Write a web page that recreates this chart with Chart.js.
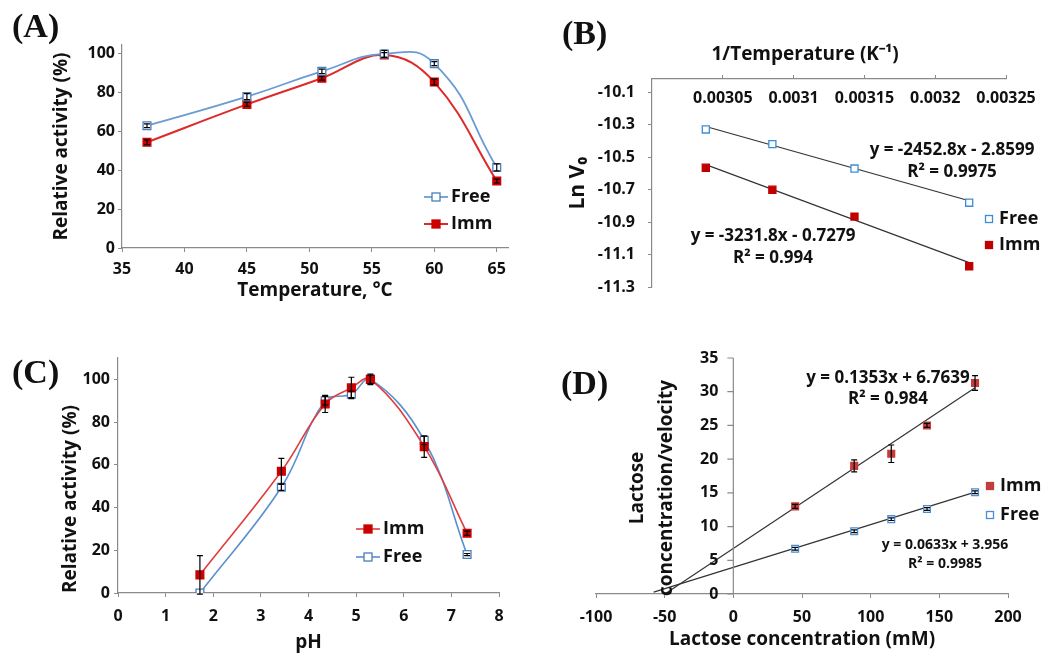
<!DOCTYPE html>
<html>
<head>
<meta charset="utf-8">
<script src="https://cdn.jsdelivr.net/npm/chart.js@4.4.0/dist/chart.umd.min.js"></script>
<style>
  body { margin: 0; background: #fff; }
  #fig { position: relative; width: 1054px; height: 654px; overflow: hidden; }
  #fig canvas { position: absolute; }
  .tag { position: absolute; font: bold 34px "Liberation Serif", serif; line-height: 34px; color: #111; }
</style>
</head>
<body>
<div id="fig">
  <canvas id="cA" width="520" height="310" style="left:0;top:0;width:520px;height:310px"></canvas>
  <canvas id="cB" width="534" height="310" style="left:520px;top:0;width:534px;height:310px"></canvas>
  <canvas id="cC" width="520" height="344" style="left:0;top:310px;width:520px;height:344px"></canvas>
  <canvas id="cD" width="534" height="344" style="left:520px;top:310px;width:534px;height:344px"></canvas>
  <div class="tag" style="left:12px;top:9px">(A)</div>
  <div class="tag" style="left:562px;top:16px">(B)</div>
  <div class="tag" style="left:12px;top:355px">(C)</div>
  <div class="tag" style="left:561px;top:366px">(D)</div>
</div>
<script>
// (A) temperature profile
const tempC = [37, 45, 51, 56, 60, 65];
const tempFree = [63, 78, 91, 100, 95, 41.5];
const tempFreeErr = [1, 1.5, 1.2, 1.8, 1, 1.8];
const tempImm = [54.5, 74, 87.5, 99.5, 85.5, 34.5];
const tempImmErr = [1.2, 1, 1, 1.2, 1.5, 1];
const tempTicks = [35, 40, 45, 50, 55, 60, 65];
const pctTicks = [0, 20, 40, 60, 80, 100];

// (B) Arrhenius plot
const invT = [0.003038, 0.003085, 0.003143, 0.003224];
const lnFree = [-10.33, -10.42, -10.57, -10.78];
const lnImm = [-10.565, -10.70, -10.865, -11.17];
const fitInvT = [0.003038, 0.003224];
const lnFreeFit = [-10.312, -10.768];
const lnImmFit = [-10.546, -11.148];
const invTTicks = [0.00305, 0.0031, 0.00315, 0.0032, 0.00325];
const lnTicks = [-11.3, -11.1, -10.9, -10.7, -10.5, -10.3, -10.1];

// (C) pH profile
const pH = [1.72, 3.43, 4.35, 4.9, 5.3, 6.43, 7.33];
const phImm = [8.5, 57, 88.5, 96, 100, 68.5, 28];
const phImmErr = [9, 6, 4, 5, 2.5, 5, 1];
const phFree = [0, 49.5, 90, 93, 100, 71.5, 18];
const phFreeErr = [0, 1.5, 2, 1.5, 2, 2, 0.5];
const phTicks = [0, 1, 2, 3, 4, 5, 6, 7, 8];

// (D) Hanes-Woolf plot
const lactose = [45, 88, 115, 141, 176];
const hwImm = [13, 19, 20.8, 25, 31.3];
const hwImmErr = [0.3, 0.9, 1.3, 0.3, 1.1];
const hwFree = [6.7, 9.3, 11.1, 12.6, 15.1];
const hwFreeErr = [0.2, 0.2, 0.2, 0.2, 0.2];
const fitLactose = [-58, 176];
const hwImmFit = [-1.1, 30.6];
const hwFreeFit = [0.28, 15.1];
const lactoseTicks = [-100, -50, 0, 50, 100, 150, 200];
const hwTicks = [0, 5, 10, 15, 20, 25, 30, 35];

const grey = '#8a8a8a';
const ink = '#111';
const blueLine = '#6a9bd4', blueMark = '#4a7ebb';
const redLine = '#dd2a2a', redMark = '#cc0000';
const FONT = '"Open Sans", sans-serif';

Chart.defaults.font.family = FONT;
Chart.defaults.font.weight = 'bold';
Chart.defaults.color = ink;
Chart.defaults.plugins.legend.display = false;
Chart.defaults.plugins.tooltip.enabled = false;
Chart.defaults.animation = false;
Chart.defaults.events = [];

const pts = (xs, ys) => xs.map((x, i) => ({x: x, y: ys[i]}));
const fixed = vals => scale => { scale.ticks = vals.map(v => ({value: v})); };

// black error bars on top of the markers
const errorBars = {
  id: 'errorBars',
  afterDatasetsDraw(chart) {
    const {ctx, scales: {x, y}} = chart;
    ctx.save();
    ctx.strokeStyle = '#000';
    ctx.lineWidth = 1.2;
    chart.data.datasets.forEach(ds => {
      if (!ds.errors) return;
      ds.data.forEach((p, i) => {
        const e = ds.errors[i];
        if (!e) return;
        const px = x.getPixelForValue(p.x);
        const t = y.getPixelForValue(p.y + e), b = y.getPixelForValue(p.y - e);
        ctx.beginPath();
        ctx.moveTo(px, t); ctx.lineTo(px, b);
        ctx.moveTo(px - 3, t); ctx.lineTo(px + 3, t);
        ctx.moveTo(px - 3, b); ctx.lineTo(px + 3, b);
        ctx.stroke();
      });
    });
    ctx.restore();
  }
};

// legend inside the plot, drawn from the datasets' own styles
const keyBox = {
  id: 'keyBox',
  afterDraw(chart, args, o) {
    if (!o.rows) return;
    const ctx = chart.ctx;
    o.rows.forEach((di, i) => {
      const ds = chart.data.datasets[di];
      const y = o.y + i * o.dy;
      ctx.save();
      if (o.line) {
        ctx.strokeStyle = ds.borderColor;
        ctx.lineWidth = ds.borderWidth;
        ctx.beginPath();
        ctx.moveTo(o.x - o.line, y); ctx.lineTo(o.x + o.line, y);
        ctx.stroke();
      }
      const s = o.size;
      ctx.fillStyle = ds.pointBackgroundColor;
      ctx.strokeStyle = ds.pointBorderColor;
      ctx.lineWidth = 1.3;
      ctx.fillRect(o.x - s / 2, y - s / 2, s, s);
      ctx.strokeRect(o.x - s / 2, y - s / 2, s, s);
      ctx.fillStyle = ink;
      ctx.font = 'bold ' + o.fontSize + 'px ' + FONT;
      ctx.textAlign = 'left';
      ctx.textBaseline = 'middle';
      ctx.fillText(ds.label, o.textX, y);
      ctx.restore();
    });
  }
};

// free text: equations, titles that chart.js cannot place
const notes = {
  id: 'notes',
  afterDraw(chart, args, o) {
    if (!o.items) return;
    const ctx = chart.ctx;
    o.items.forEach(t => {
      ctx.save();
      ctx.font = 'bold ' + t.size + 'px ' + FONT;
      ctx.fillStyle = ink;
      ctx.textAlign = 'center';
      ctx.textBaseline = 'middle';
      ctx.translate(t.x, t.y);
      if (t.rot) ctx.rotate(t.rot);
      ctx.fillText(t.text, 0, 0);
      ctx.restore();
    });
  }
};

// y axis crossing x = 0 (panel D): line, tick marks and labels at the left of it
const crossAxis = {
  id: 'crossAxis',
  afterDatasetsDraw(chart) {
    const {ctx, scales: {x, y}} = chart;
    const x0 = x.getPixelForValue(0);
    ctx.save();
    ctx.strokeStyle = grey;
    ctx.lineWidth = 1.2;
    ctx.beginPath();
    ctx.moveTo(x0, y.top); ctx.lineTo(x0, y.bottom);
    y.ticks.forEach(t => {
      const py = y.getPixelForValue(t.value);
      ctx.moveTo(x0 - 6, py); ctx.lineTo(x0, py);
    });
    ctx.stroke();
    ctx.fillStyle = ink;
    ctx.font = 'bold 16px ' + FONT;
    ctx.textAlign = 'right';
    ctx.textBaseline = 'middle';
    y.ticks.forEach(t => ctx.fillText(String(t.value), x0 - 15, y.getPixelForValue(t.value)));
    ctx.restore();
  }
};

const tickFont = {size: 16, weight: 'bold'};
const titleFont = {size: 19, weight: 'bold'};
const noGrid = {drawOnChartArea: false, drawTicks: true, tickLength: 4, color: grey};
const border = {color: grey, width: 1.2};

function curve(label, xs, ys, errs, line, mark, filled) {
  return {
    label: label, data: pts(xs, ys), errors: errs,
    borderColor: line, borderWidth: 2, tension: 0.4,
    pointStyle: 'rect', pointRadius: 5.5,
    pointBackgroundColor: filled ? mark : '#fff', pointBorderColor: mark, pointBorderWidth: 1.3
  };
}
function dots(label, xs, ys, errs, mark, filled, r) {
  return {
    label: label, data: pts(xs, ys), errors: errs, showLine: false,
    pointStyle: 'rect', pointRadius: r,
    pointBackgroundColor: filled ? mark : '#fff', pointBorderColor: mark, pointBorderWidth: 1.3
  };
}
function fit(xs, ys) {
  return {data: pts(xs, ys), borderColor: '#333', borderWidth: 1.2, pointRadius: 0, tension: 0};
}

// ---- (A)
const aFree = curve('Free', tempC, tempFree, tempFreeErr, blueLine, blueMark, false);
const aImm = curve('Imm', tempC, tempImm, tempImmErr, redLine, redMark, true);
aFree.tension = 0.5; aFree.borderWidth = 1.8;
new Chart(document.getElementById('cA'), {
  type: 'line',
  data: {datasets: [aFree, aImm]},
  plugins: [errorBars, keyBox],
  options: {
    responsive: false,
    layout: {padding: {left: 0, top: 45, right: 12, bottom: 0}},
    scales: {
      x: {type: 'linear', min: 35, max: 65.9, afterBuildTicks: fixed(tempTicks),
          afterFit: s => { s.height = 62; },
          grid: noGrid, border: border,
          ticks: {font: tickFont, padding: 8, callback: v => String(v)},
          title: {display: true, text: 'Temperature, °C', font: titleFont, padding: {top: 0, bottom: 8}}},
      y: {min: 0, max: 104.6, afterBuildTicks: fixed(pctTicks),
          afterFit: s => { s.width = 122; },
          grid: noGrid, border: border,
          ticks: {font: tickFont, padding: 3, callback: v => String(v)},
          title: {display: true, text: 'Relative activity (%)', font: titleFont, padding: {top: 50, bottom: 0}}}
    },
    plugins: {keyBox: {rows: [0, 1], x: 436, y: 197, dy: 27, line: 12, size: 8, textX: 451, fontSize: 18}}
  }
});

// ---- (B)
new Chart(document.getElementById('cB'), {
  type: 'line',
  data: {datasets: [
    dots('Free', invT, lnFree, null, '#3b8ed6', false, 5),
    dots('Imm', invT, lnImm, null, '#c00000', true, 5),
    fit(fitInvT, lnFreeFit),
    fit(fitInvT, lnImmFit)
  ]},
  plugins: [keyBox, notes],
  options: {
    responsive: false,
    layout: {padding: {left: 0, top: 0, right: 48, bottom: 15}},
    scales: {
      x: {type: 'linear', position: 'top', min: 0.003, max: 0.00325, afterBuildTicks: fixed(invTTicks),
          afterFit: s => { s.height = 79; },
          grid: noGrid, border: border,
          ticks: {font: tickFont, mirror: true, padding: 10, callback: v => String(v)}},
      y: {min: -11.3, max: -10.02, afterBuildTicks: fixed(lnTicks),
          afterFit: s => { s.width = 132; },
          grid: noGrid, border: border,
          ticks: {font: tickFont, padding: 13, callback: v => String(v)},
          title: {display: true, text: 'Ln V₀', font: {size: 21, weight: 'bold'}, padding: {top: 45, bottom: 0}}}
    },
    plugins: {
      keyBox: {rows: [0, 1], x: 469, y: 219, dy: 26, size: 7, textX: 479, fontSize: 18},
      notes: {items: [
        {text: '1/Temperature (K⁻¹)', x: 285, y: 55, size: 19},
        {text: 'y = -2452.8x - 2.8599', x: 432, y: 150, size: 17},
        {text: 'R² = 0.9975', x: 432, y: 172, size: 17},
        {text: 'y = -3231.8x - 0.7279', x: 253, y: 236, size: 17},
        {text: 'R² = 0.994', x: 253, y: 258, size: 17}
      ]}
    }
  }
});

// ---- (C)
const cImm = curve('Imm', pH, phImm, phImmErr, '#e03c3c', redMark, true);
const cFree = curve('Free', pH, phFree, phFreeErr, '#5b8fd0', blueMark, false);
cImm.borderWidth = 1.6; cFree.borderWidth = 1.6;
new Chart(document.getElementById('cC'), {
  type: 'line',
  data: {datasets: [cImm, cFree]},
  plugins: [errorBars, keyBox],
  options: {
    responsive: false,
    layout: {padding: {left: 0, top: 48, right: 21, bottom: 0}},
    scales: {
      x: {type: 'linear', min: 0, max: 8, afterBuildTicks: fixed(phTicks),
          afterFit: s => { s.height = 61; },
          grid: noGrid, border: border,
          ticks: {font: tickFont, padding: 10, callback: v => String(v)},
          title: {display: true, text: 'pH', font: titleFont, padding: {top: 0, bottom: 0}}},
      y: {min: 0, max: 110, afterBuildTicks: fixed(pctTicks),
          afterFit: s => { s.width = 118; },
          grid: noGrid, border: border,
          ticks: {font: tickFont, padding: 4, callback: v => String(v)},
          title: {display: true, text: 'Relative activity (%)', font: titleFont, align: 'start', padding: {top: 59, bottom: 0}}}
    },
    plugins: {keyBox: {rows: [0, 1], x: 368, y: 219, dy: 28, line: 12, size: 8, textX: 383, fontSize: 18}}
  }
});

// ---- (D)
new Chart(document.getElementById('cD'), {
  type: 'line',
  data: {datasets: [
    dots('Imm', lactose, hwImm, hwImmErr, '#c43c3c', true, 4.8),
    dots('Free', lactose, hwFree, hwFreeErr, '#4a8fd4', false, 4.8),
    fit(fitLactose, hwImmFit),
    fit(fitLactose, hwFreeFit)
  ]},
  plugins: [crossAxis, errorBars, keyBox, notes],
  options: {
    responsive: false,
    layout: {padding: {left: 76, top: 48, right: 46, bottom: 0}},
    scales: {
      x: {type: 'linear', min: -100, max: 200, afterBuildTicks: fixed(lactoseTicks),
          afterFit: s => { s.height = 60; },
          grid: noGrid, border: border,
          ticks: {font: tickFont, padding: 10, callback: v => String(v)},
          title: {display: true, text: 'Lactose concentration (mM)', font: titleFont, padding: {top: 0, bottom: 3}}},
      y: {position: {x: 0}, min: 0, max: 35, afterBuildTicks: fixed(hwTicks),
          grid: {display: false}, border: {display: false},
          ticks: {display: false}}
    },
    plugins: {
      keyBox: {rows: [0, 1], x: 470, y: 176, dy: 29, size: 7, textX: 480, fontSize: 18},
      notes: {items: [
        {text: 'Lactose', x: 118, y: 178, size: 19, rot: -Math.PI / 2},
        {text: 'concentration/velocity', x: 147, y: 178, size: 19, rot: -Math.PI / 2},
        {text: 'y = 0.1353x + 6.7639', x: 368, y: 68, size: 17},
        {text: 'R² = 0.984', x: 368, y: 89, size: 17},
        {text: 'y = 0.0633x + 3.956', x: 425, y: 235, size: 14},
        {text: 'R² = 0.9985', x: 425, y: 254, size: 14}
      ]}
    }
  }
});
</script>
</body>
</html>
